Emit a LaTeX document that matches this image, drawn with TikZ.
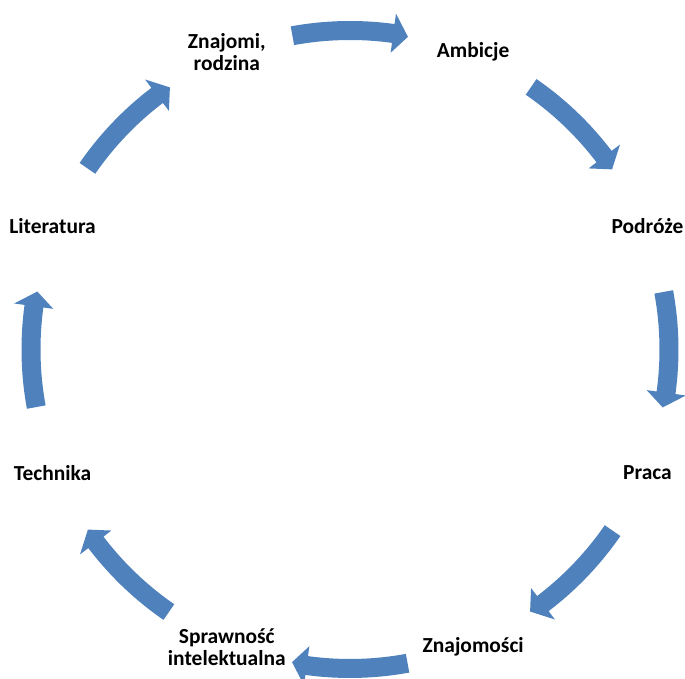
\documentclass[tikz,border=0pt]{standalone}
\usepackage{fontspec}
\setmainfont{Carlito}
\definecolor{cycleblue}{RGB}{79,129,189}
\tikzstyle{arrowblock}=[fill=cycleblue,draw=none]
\tikzstyle{label}=[font=\fontsize{12.2}{12.6}\selectfont\bfseries,align=center,inner sep=1pt]

\begin{document}
\begin{tikzpicture}[scale=1]
  \useasboundingbox (-7.0,-6.59) rectangle (6.7,6.99);
  \def \rlab {6.44}
  \def \ro {6.57}
  \def \ri {6.19}
  \def \rho {6.78}
  \def \rhi {5.99}
  \def \rc {6.36}
  % Labels
  \node[label] (znajomi) at (112.5:\rlab) {Znajomi,\\rodzina};
  \node[label] (ambicje) at (67.5:\rlab) {Ambicje};
  \node[label] (podroze) at (22.5:\rlab) {Podróże};
  \node[label] (praca) at (-22.5:\rlab) {Praca};
  \node[label] (znajomosci) at (-67.5:\rlab) {Znajomości};
  \node[label] (sprawnosc) at (-112.5:\rlab) {Sprawność\\intelektualna};
  \node[label] (technika) at (-157.5:\rlab) {Technika};
  \node[label] (literatura) at (157.5:\rlab) {Literatura};

  % Cycle arrows (clockwise)
  \foreach \a in {90,45,0,-45,-90,-135,-180,-225} {
    \pgfmathsetmacro{\at}{\a+10.4}
    \pgfmathsetmacro{\ab}{\a-7.8}
    \pgfmathsetmacro{\ap}{\a-10.5}
    \fill[arrowblock] (\at:\ro) arc[start angle=\at, end angle=\ab, radius=\ro]
      -- (\ab:\rho) -- (\ap:\rc) -- (\ab:\rhi) -- (\ab:\ri)
      arc[start angle=\ab, end angle=\at, radius=\ri] -- cycle;
  }
\end{tikzpicture}
\end{document}
